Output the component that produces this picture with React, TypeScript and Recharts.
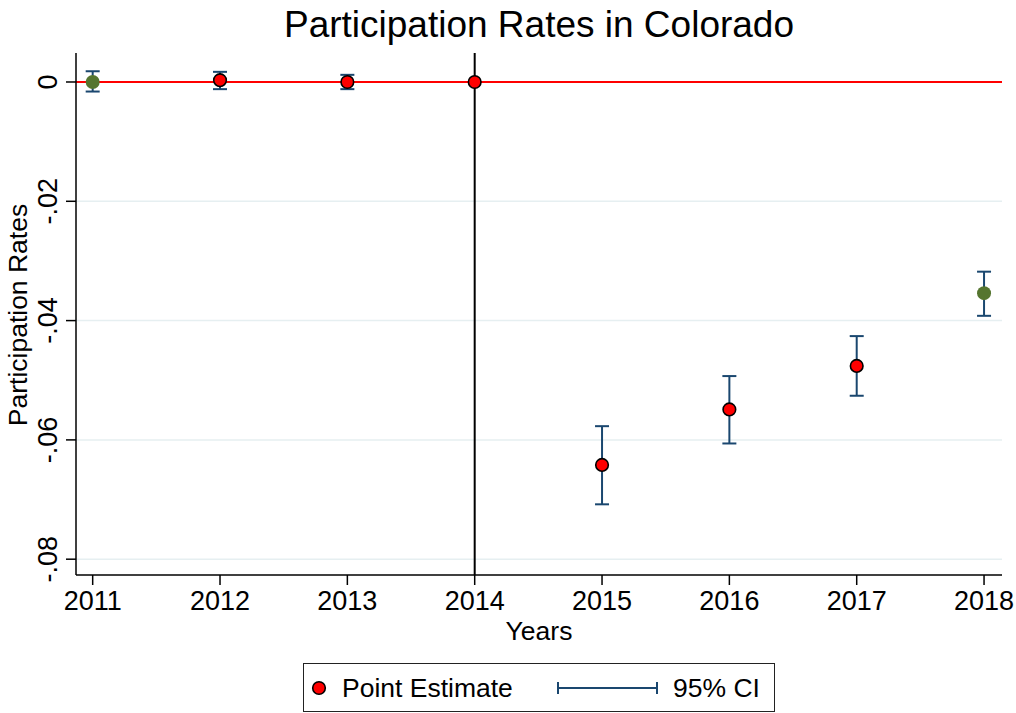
import React from "react";
import {
  ComposedChart,
  Scatter,
  XAxis,
  YAxis,
  ReferenceLine,
  ErrorBar,
} from "recharts";

// ---- data ----
const years = [2011, 2012, 2013, 2015, 2016, 2017, 2018];
const estimates = [0, 0.0003, 0, -0.0642, -0.0549, -0.0476, -0.0354];
const ciLower = [-0.0016, -0.0012, -0.0012, -0.0708, -0.0606, -0.0526, -0.0392];
const ciUpper = [0.0018, 0.0017, 0.0012, -0.0577, -0.0493, -0.0426, -0.0318];
const treatmentYear = 2014;
const treatmentEstimate = 0;
const highlightYears = [2011, 2018];
const xTicks = [2011, 2012, 2013, 2014, 2015, 2016, 2017, 2018];
const yTicks = [0, -0.02, -0.04, -0.06, -0.08];
const yTickLabels = ["0", "-.02", "-.04", "-.06", "-.08"];
const gridValues = [-0.02, -0.04, -0.06, -0.08];

const ciData = years.map((year, i) => ({
  year,
  est: estimates[i],
  err: [estimates[i] - ciLower[i], ciUpper[i] - estimates[i]],
}));
const refData = [{ year: treatmentYear, est: treatmentEstimate }];

const FONT = "'Liberation Sans', Arial, sans-serif";
const RED = "#ff0000";
const GREEN = "#55752f";
const NAVY = "#1a476f";

const PointShape = (props: any) => {
  const { cx, cy, payload } = props;
  if (cx == null || cy == null) return null;
  const hl = highlightYears.includes(payload.year);
  return (
    <circle
      cx={cx}
      cy={cy}
      r={hl ? 7 : 6.3}
      fill={hl ? GREEN : RED}
      stroke={hl ? GREEN : "#000"}
      strokeWidth={hl ? 0 : 1.6}
    />
  );
};

const YTick = (props: any) => {
  const { y, payload } = props;
  const idx = yTicks.findIndex((t) => Math.abs(t - payload.value) < 1e-9);
  const label = idx >= 0 ? yTickLabels[idx] : String(payload.value);
  const x = 57;
  return (
    <text
      x={x}
      y={y}
      transform={`rotate(-90, ${x}, ${y})`}
      textAnchor="middle"
      fontSize={27}
      fontFamily={FONT}
      fill="#000"
    >
      {label}
    </text>
  );
};

export default function App() {
  return (
    <div
      style={{
        position: "absolute",
        left: 0,
        top: 0,
        width: 1016,
        height: 713,
        background: "#fff",
        fontFamily: FONT,
        overflow: "hidden",
      }}
    >
      <div
        style={{
          position: "absolute",
          left: 0,
          top: 5,
          width: 1078,
          textAlign: "center",
          fontSize: 37,
          lineHeight: "40px",
          color: "#000",
        }}
      >
        Participation Rates in Colorado
      </div>
      <div
        style={{
          position: "absolute",
          left: 18 - 200,
          top: 315 - 15,
          width: 400,
          height: 30,
          lineHeight: "30px",
          textAlign: "center",
          fontSize: 26.5,
          transform: "rotate(-90deg)",
          color: "#000",
        }}
      >
        Participation Rates
      </div>
      <div
        style={{
          position: "absolute",
          left: 339 - 200,
          top: 616,
          width: 800,
          lineHeight: "30px",
          textAlign: "center",
          fontSize: 26.5,
          color: "#000",
        }}
      >
        Years
      </div>
      <div style={{ position: "absolute", left: 0, top: 0 }}>
        <ComposedChart
          width={1016}
          height={713}
          margin={{ top: 53, right: 14, left: 0, bottom: 98 }}
        >
          <XAxis
            type="number"
            dataKey="year"
            domain={[2010.869, 2018.141]}
            ticks={xTicks}
            allowDataOverflow
            height={40}
            tickSize={10}
            tickMargin={6}
            axisLine={{ stroke: "#000", strokeWidth: 1.5 }}
            tickLine={{ stroke: "#000", strokeWidth: 1.5 }}
            tick={{ fontSize: 27, fill: "#000", fontFamily: FONT }}
          />
          <YAxis
            type="number"
            dataKey="est"
            domain={[-0.08265, 0.00486]}
            ticks={yTicks}
            allowDataOverflow
            width={76}
            tickSize={10}
            axisLine={{ stroke: "#000", strokeWidth: 1.5 }}
            tickLine={{ stroke: "#000", strokeWidth: 1.5 }}
            tick={<YTick />}
          />
          {gridValues.map((v) => (
            <ReferenceLine key={v} y={v} stroke="#e6eff1" strokeWidth={1.5} />
          ))}
          <ReferenceLine y={0} stroke={RED} strokeWidth={2} />
          <ReferenceLine x={treatmentYear} stroke="#000" strokeWidth={2} />
          <Scatter
            data={ciData}
            dataKey="est"
            shape={<PointShape />}
            isAnimationActive={false}
          >
            <ErrorBar
              dataKey="err"
              direction="y"
              width={7}
              stroke={NAVY}
              strokeWidth={2}
              isAnimationActive={false}
            />
          </Scatter>
          <Scatter
            data={refData}
            dataKey="est"
            shape={<PointShape />}
            isAnimationActive={false}
          />
        </ComposedChart>
      </div>
      <div
        style={{
          position: "absolute",
          left: 303,
          top: 663,
          width: 472,
          height: 49,
          boxSizing: "border-box",
          border: "1.5px solid #222",
          background: "#fff",
        }}
      >
        <svg width={470} height={47} style={{ display: "block" }}>
          <circle cx={15} cy={24} r={6.3} fill={RED} stroke="#000" strokeWidth={1.6} />
          <text x={38} y={33} fontSize={26.5} fontFamily={FONT} fill="#000">
            Point Estimate
          </text>
          <line x1={253} y1={24} x2={354} y2={24} stroke={NAVY} strokeWidth={2} />
          <line x1={254} y1={18} x2={254} y2={30} stroke={NAVY} strokeWidth={2} />
          <line x1={353} y1={18} x2={353} y2={30} stroke={NAVY} strokeWidth={2} />
          <text x={369} y={33} fontSize={26.5} fontFamily={FONT} fill="#000">
            95% CI
          </text>
        </svg>
      </div>
    </div>
  );
}
